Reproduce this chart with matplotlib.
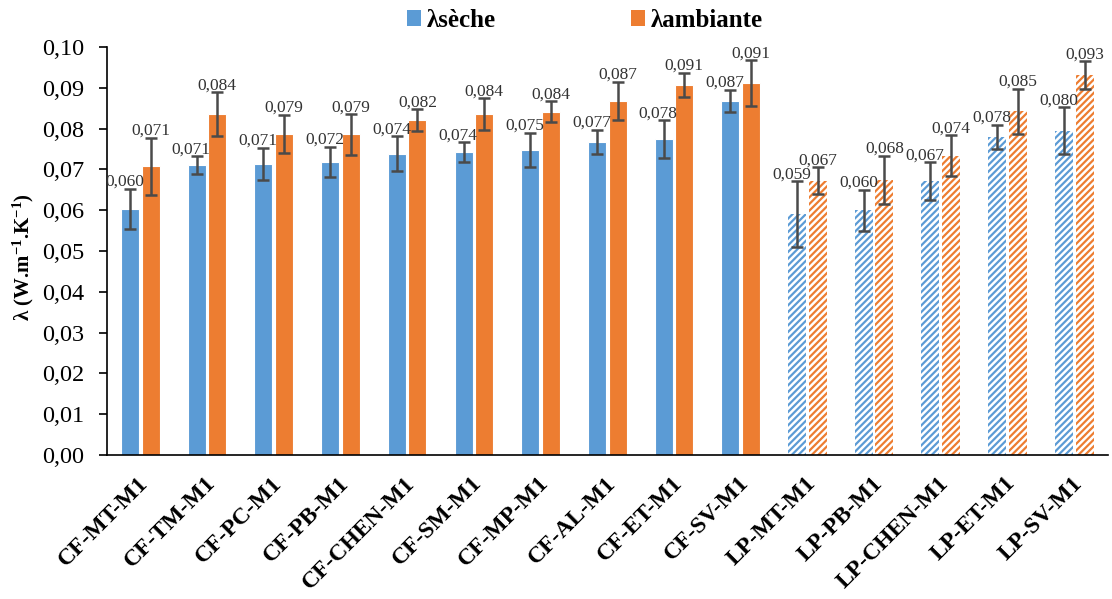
import matplotlib
matplotlib.use("Agg")
import matplotlib.pyplot as plt
import matplotlib.transforms as mtransforms
from matplotlib.patches import Patch
import numpy as np

categories = ["CF-MT-M1", "CF-TM-M1", "CF-PC-M1", "CF-PB-M1", "CF-CHEN-M1",
              "CF-SM-M1", "CF-MP-M1", "CF-AL-M1", "CF-ET-M1", "CF-SV-M1",
              "LP-MT-M1", "LP-PB-M1", "LP-CHEN-M1", "LP-ET-M1", "LP-SV-M1"]
seche = [0.0603, 0.0711, 0.0713, 0.0719, 0.0738, 0.0742, 0.0748, 0.0767, 0.0775, 0.0868,
         0.0591, 0.0600, 0.0672, 0.0780, 0.0795]
seche_err = [0.0050, 0.0022, 0.0040, 0.0037, 0.0043, 0.0025, 0.0042, 0.0030, 0.0046, 0.0027,
             0.0080, 0.0050, 0.0046, 0.0030, 0.0058]
ambiante = [0.0708, 0.0836, 0.0787, 0.0786, 0.0821, 0.0836, 0.0841, 0.0868, 0.0907, 0.0912,
            0.0672, 0.0675, 0.0734, 0.0843, 0.0931]
ambiante_err = [0.0070, 0.0053, 0.0047, 0.0050, 0.0026, 0.0039, 0.0026, 0.0047, 0.0030, 0.0056,
                0.0033, 0.0059, 0.0050, 0.0055, 0.0034]
seche_labels = ["0,060", "0,071", "0,071", "0,072", "0,074", "0,074", "0,075", "0,077", "0,078", "0,087",
                "0,059", "0,060", "0,067", "0,078", "0,080"]
ambiante_labels = ["0,071", "0,084", "0,079", "0,079", "0,082", "0,084", "0,084", "0,087", "0,091", "0,091",
                   "0,067", "0,068", "0,074", "0,085", "0,093"]
n_hatched_from = 10  # LP-* bars are hatched
ytick_vals = [0.00, 0.01, 0.02, 0.03, 0.04, 0.05, 0.06, 0.07, 0.08, 0.09, 0.10]
ytick_labels = ["0,00", "0,01", "0,02", "0,03", "0,04", "0,05", "0,06", "0,07", "0,08", "0,09", "0,10"]
series_names = ["λsèche", "λambiante"]

BLUE = "#5B9BD5"
ORANGE = "#ED7D31"
ERR = "#4A4A4A"

plt.rcParams['font.family'] = ['Liberation Serif', 'DejaVu Serif']
plt.rcParams['mathtext.fontset'] = 'custom'
plt.rcParams['mathtext.rm'] = 'Liberation Serif'
plt.rcParams['mathtext.it'] = 'Liberation Serif:italic'
plt.rcParams['mathtext.bf'] = 'Liberation Serif:bold'
plt.rcParams['hatch.linewidth'] = 1.6

fig = plt.figure(figsize=(11.12, 5.99), dpi=100)
ax = fig.add_axes([0.0962, 0.2404, 0.8998, 0.6811])

x = np.arange(len(categories))
w = 0.27
off = 0.155

for i in range(len(categories)):
    hatched = i >= n_hatched_from
    for val, err, col, dx in ((seche[i], seche_err[i], BLUE, -off),
                              (ambiante[i], ambiante_err[i], ORANGE, off)):
        if hatched:
            ax.bar(x[i] + dx, val, w, facecolor="white", edgecolor=col,
                   hatch="/////", linewidth=0, zorder=2)
        else:
            ax.bar(x[i] + dx, val, w, color=col, edgecolor="white",
                   linewidth=0.8, zorder=2)
        ax.errorbar(x[i] + dx, val, yerr=err, fmt="none", ecolor=ERR,
                    elinewidth=1.8, capsize=4, capthick=1.8, zorder=3)

for i in range(len(categories)):
    ax.text(x[i] - off - 0.08, seche[i] + seche_err[i] - 0.0003, seche_labels[i],
            ha="center", va="bottom", fontsize=12.5, color="#333333", zorder=4)
    ax.text(x[i] + off, ambiante[i] + ambiante_err[i] - 0.0003, ambiante_labels[i],
            ha="center", va="bottom", fontsize=12.5, color="#333333", zorder=4)

ax.set_xlim(-0.5, len(categories) - 0.5)
ax.set_ylim(0, 0.10)
ax.set_yticks(ytick_vals)
ax.set_yticklabels(ytick_labels, fontsize=17.5)
ax.tick_params(axis="y", direction="out", length=6, width=1.2, pad=10.5)
ax.set_xticks(x)
ax.set_xticklabels(categories, rotation=45, ha="right", va="center",
                   rotation_mode="anchor", fontsize=17, fontweight="bold")
ax.tick_params(axis="x", length=0, pad=18)
shift = mtransforms.ScaledTranslation(5 / 100, 0, fig.dpi_scale_trans)
for lab in ax.get_xticklabels():
    lab.set_transform(lab.get_transform() + shift)

for s in ("top", "right"):
    ax.spines[s].set_visible(False)
ax.spines["left"].set_linewidth(1.2)
ax.spines["bottom"].set_linewidth(1.2)

fig.text(23 / 1112, 1 - 257 / 599, "λ (W.m$^{\\mathbf{-1}}$.K$^{\\mathbf{-1}}$)",
         rotation=90, ha="center", va="center", fontsize=15, fontweight="bold")

handles = [Patch(facecolor=BLUE, edgecolor="none"), Patch(facecolor=ORANGE, edgecolor="none")]
fig.legend(handles, series_names, loc="center", bbox_to_anchor=(0.526, 0.966),
           ncol=2, frameon=False, prop={"weight": "bold", "size": 18},
           handlelength=0.55, handleheight=0.55, handletextpad=0.25, columnspacing=5.4)

fig.savefig("out.png", dpi=100)
